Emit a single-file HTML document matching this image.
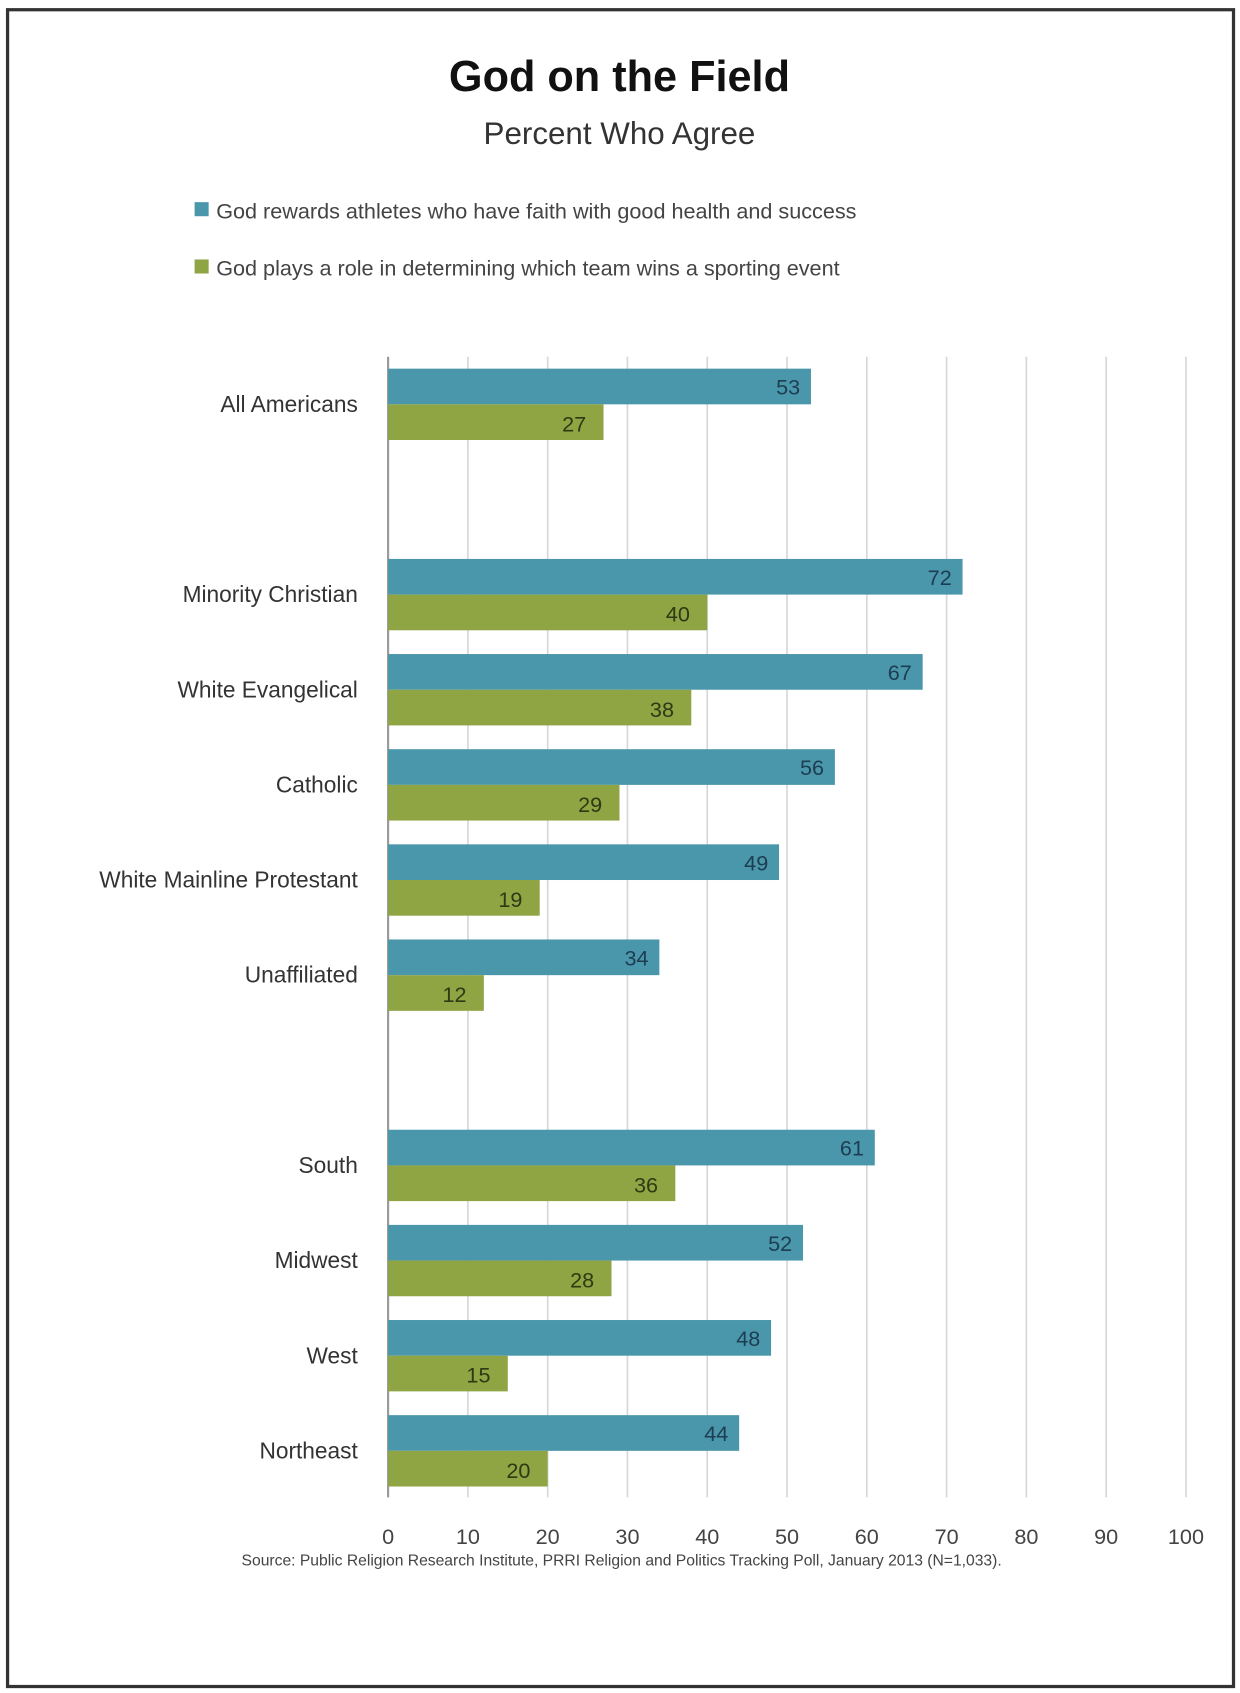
<!DOCTYPE html>
<html><head><meta charset="utf-8"><style>
html,body{margin:0;padding:0;background:#fff;}
body{width:1240px;height:1693px;position:relative;overflow:hidden;font-family:"Liberation Sans",sans-serif;}
</style></head><body>
<svg id="chart" width="1240" height="1693" viewBox="0 0 1147 1566" preserveAspectRatio="none" style="position:absolute;left:0;top:0">
<rect x="7" y="9" width="1134" height="1551" fill="none" stroke="#333" stroke-width="3"></rect>
<text x="573" y="84" text-anchor="middle" font-size="40" font-weight="bold" fill="#111">God on the Field</text>
<text x="573" y="133" text-anchor="middle" font-size="29" fill="#333">Percent Who Agree</text>
<g>
<rect x="180" y="187" width="13" height="13" fill="#4a96ab"></rect>
<text x="200" y="202" font-size="20" fill="#444">God rewards athletes who have faith with good health and success</text>
<rect x="180" y="240" width="13" height="13" fill="#8fa443"></rect>
<text x="200" y="255" font-size="20" fill="#444">God plays a role in determining which team wins a sporting event</text>
</g>
<g id="grid"></g><g id="bars"></g><g id="labels"></g><g id="ticks"></g>
<text x="575" y="1448" text-anchor="middle" font-size="14.5" fill="#444">Source: Public Religion Research Institute, PRRI Religion and Politics Tracking Poll, January 2013 (N=1,033).</text>
</svg>
<script>
const categories = ["All Americans","Minority Christian","White Evangelical","Catholic","White Mainline Protestant","Unaffiliated","South","Midwest","West","Northeast"];
const slots = [0,2,3,4,5,6,8,9,10,11];
const rewards = [53,72,67,56,49,34,61,52,48,44];
const role = [27,40,38,29,19,12,36,28,15,20];
const ticks = [0,10,20,30,40,50,60,70,80,90,100];
const NS="http://www.w3.org/2000/svg";
const x0=359, x1=1097, yTop=330, yBot=1385;
const xs=v=>x0+(v/100)*(x1-x0);
const yc=s=>374+88*s;
const bh=33;
function mk(tag,attrs,parent){const e=document.createElementNS(NS,tag);for(const k in attrs)e.setAttribute(k,attrs[k]);document.getElementById(parent).appendChild(e);return e;}
ticks.forEach(t=>{
  const l=mk('line',{x1:xs(t),x2:xs(t),y1:yTop,y2:yBot,stroke:t===0?'#999':'#d6d6d6','stroke-width':t===0?2:1.5},'grid');
  
  
  const tx=mk('text',{x:xs(t),y:1428,'text-anchor':'middle','font-size':20,fill:'#444'},'ticks');
  tx.textContent=t;
  
  
});
categories.forEach((c,i)=>{
  const y=yc(slots[i]);
  const lb=mk('text',{x:331,y:y+7,'text-anchor':'end','font-size':21,fill:'#333'},'labels');
  lb.textContent=c;
  
  
  const b1=mk('rect',{x:x0,y:y-bh,width:xs(rewards[i])-x0,height:bh,fill:'#4a96ab'},'bars');
  
  
  const b2=mk('rect',{x:x0,y:y,width:xs(role[i])-x0,height:bh,fill:'#8fa443'},'bars');
  
  
  const v1=mk('text',{x:xs(rewards[i])-10,y:y-9,'text-anchor':'end','font-size':20,fill:'#1d3d52'},'labels');
  v1.textContent=rewards[i];
  
  
  const v2=mk('text',{x:xs(role[i])-16,y:y+25,'text-anchor':'end','font-size':20,fill:'#2d3a14'},'labels');
  v2.textContent=role[i];
  
  
});
</script>
</body></html>
